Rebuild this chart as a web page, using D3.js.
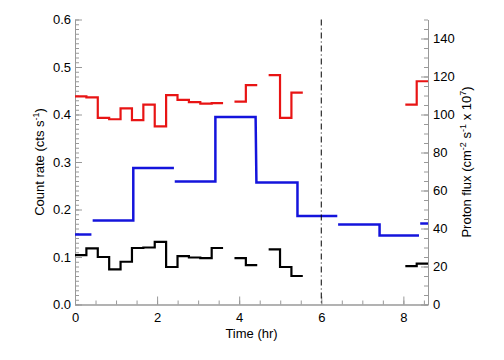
<!DOCTYPE html>
<html lang="en">
<head>
<meta charset="utf-8">
<title>Count rate and proton flux</title>
<script src="https://d3js.org/d3.v7.min.js"></script>
<style>
  body { margin: 0; background: #fff; }
  svg { font-family: "Liberation Sans", Arial, sans-serif; }
  .axis path, .axis line { stroke: #999; }
  .axis text { font-size: 13px; fill: #000; font-family: "Liberation Sans", Arial, sans-serif; }
</style>
</head>
<body>
<script>
// count-rate bins (hr), fixed width
const rateBinWidth = 0.2775;
const rateStart = [0, 0.2775, 0.555, 0.8325, 1.11, 1.3875, 1.665, 1.9425, 2.22, 2.4975, 2.775, 3.0525, 3.33,
                   3.885, 4.1625, 4.7175, 4.995, 5.2725, 8.0475, 8.325];
const redRate   = [0.438, 0.436, 0.393, 0.390, 0.413, 0.388, 0.421, 0.375, 0.441, 0.431, 0.426, 0.423, 0.424,
                   0.427, 0.462, 0.483, 0.393, 0.446, 0.421, 0.470];
const blackRate = [0.104, 0.118, 0.100, 0.074, 0.090, 0.119, 0.120, 0.132, 0.079, 0.102, 0.099, 0.0975, 0.119,
                   0.0975, 0.083, 0.116, 0.079, 0.060, 0.081, 0.086];

// proton flux bins (hr)
const fluxStart = [0, 0.43, 1.42, 2.43, 3.42, 4.42, 5.42, 6.41, 7.42, 8.41];
const fluxEnd   = [0.40, 1.42, 2.41, 3.42, 4.40, 5.42, 6.39, 7.42, 8.38, 8.6];
const protonFlux = [36.8, 44.2, 71.9, 64.7, 98.7, 64.2, 46.6, 42.1, 36.3, 42.6];

const xTicks = [0, 2, 4, 6, 8];
const leftTicks = [0, 0.1, 0.2, 0.3, 0.4, 0.5, 0.6];
const rightTicks = [0, 20, 40, 60, 80, 100, 120, 140];
const markTime = 6;

const W = 504, H = 360;
const plot = {left: 75, right: 428, top: 19.5, bottom: 304.5};

const svg = d3.select("body").append("svg")
    .attr("width", W).attr("height", H);
svg.append("rect").attr("width", W).attr("height", H).attr("fill", "#fff");

const x = d3.scaleLinear().domain([0, 8.6]).range([plot.left, plot.right]);
const yL = d3.scaleLinear().domain([0, 0.6]).range([plot.bottom, plot.top]);
const yR = d3.scaleLinear().domain([0, 150]).range([plot.bottom, plot.top]);

svg.append("clipPath").attr("id", "clip").append("rect")
    .attr("x", plot.left).attr("y", plot.top)
    .attr("width", plot.right - plot.left).attr("height", plot.bottom - plot.top);

// minor ticks
svg.append("g").attr("class", "axis")
    .attr("transform", `translate(0,${plot.bottom})`)
    .call(d3.axisBottom(x).tickValues(d3.range(0, 8.6, 0.5)).tickSizeInner(-4).tickSizeOuter(0).tickFormat(""));
svg.append("g").attr("class", "axis")
    .attr("transform", `translate(${plot.left},0)`)
    .call(d3.axisLeft(yL).tickValues(d3.range(0, 0.601, 0.01)).tickSizeInner(-4).tickSizeOuter(0).tickFormat(""));
svg.append("g").attr("class", "axis")
    .attr("transform", `translate(${plot.right},0)`)
    .call(d3.axisRight(yR).tickValues(d3.range(0, 151, 5)).tickSizeInner(-4).tickSizeOuter(0).tickFormat(""));

// major ticks
svg.append("g").attr("class", "axis")
    .attr("transform", `translate(0,${plot.bottom})`)
    .call(d3.axisBottom(x).tickValues(xTicks).tickSizeInner(-8).tickSizeOuter(0).tickPadding(8).tickFormat(d3.format("d")));
svg.append("g").attr("class", "axis")
    .attr("transform", `translate(${plot.left},0)`)
    .call(d3.axisLeft(yL).tickValues(leftTicks).tickSizeInner(-7).tickSizeOuter(0).tickPadding(4).tickFormat(d3.format(".1f")));
svg.append("g").attr("class", "axis")
    .attr("transform", `translate(${plot.right},0)`)
    .call(d3.axisRight(yR).tickValues(rightTicks).tickSizeInner(-7).tickSizeOuter(0).tickPadding(5).tickFormat(d3.format("d")));

// build stepped segments, breaking where bins are not contiguous
function segments(starts, ends, vals) {
  const out = [];
  let cur = null, lastEnd = null;
  starts.forEach((s, i) => {
    if (vals[i] == null) { cur = null; return; }
    if (!cur || Math.abs(s - lastEnd) > 0.02) { cur = []; out.push(cur); }
    cur.push([s, vals[i]], [ends[i], vals[i]]);
    lastEnd = ends[i];
  });
  return out;
}

const rateEnd = rateStart.map(s => s + rateBinWidth);
const lines = svg.append("g").attr("clip-path", "url(#clip)");

function drawSeries(segs, yScale, color, width) {
  const line = d3.line().x(d => x(d[0])).y(d => yScale(d[1]));
  lines.selectAll(null).data(segs).enter().append("path")
      .attr("d", line)
      .attr("fill", "none")
      .attr("stroke", color)
      .attr("stroke-width", width)
      .attr("stroke-linejoin", "miter")
      .attr("stroke-linecap", "butt");
}

drawSeries(segments(rateStart, rateEnd, redRate), yL, "#e81414", 2.2);
drawSeries(segments(rateStart, rateEnd, blackRate), yL, "#000", 2.2);
drawSeries(segments(fluxStart, fluxEnd, protonFlux), yR, "#1414dc", 2.5);

// dash-dot marker
svg.append("line")
    .attr("x1", x(markTime)).attr("x2", x(markTime))
    .attr("y1", plot.top).attr("y2", plot.bottom)
    .attr("stroke", "#000").attr("stroke-width", 1)
    .attr("stroke-dasharray", "6,3,1,3");

// axis titles
svg.append("text")
    .attr("x", (plot.left + plot.right) / 2).attr("y", 338)
    .attr("text-anchor", "middle").attr("font-size", 13)
    .text("Time (hr)");

const lt = svg.append("text")
    .attr("transform", `translate(44,${(plot.top + plot.bottom) / 2}) rotate(-90)`)
    .attr("text-anchor", "middle").attr("font-size", 13);
lt.append("tspan").text("Count rate (cts  s");
lt.append("tspan").attr("dy", -5).attr("font-size", 9).text("-1");
lt.append("tspan").attr("dy", 5).text(")");

const rt = svg.append("text")
    .attr("transform", `translate(471,${(plot.top + plot.bottom) / 2}) rotate(-90)`)
    .attr("text-anchor", "middle").attr("font-size", 13);
rt.append("tspan").text("Proton flux (cm");
rt.append("tspan").attr("dy", -5).attr("font-size", 9).text("-2");
rt.append("tspan").attr("dy", 5).text(" s");
rt.append("tspan").attr("dy", -5).attr("font-size", 9).text("-1");
rt.append("tspan").attr("dy", 5).text(" x 10");
rt.append("tspan").attr("dy", -5).attr("font-size", 9).text("7");
rt.append("tspan").attr("dy", 5).text(")");
</script>
</body>
</html>
